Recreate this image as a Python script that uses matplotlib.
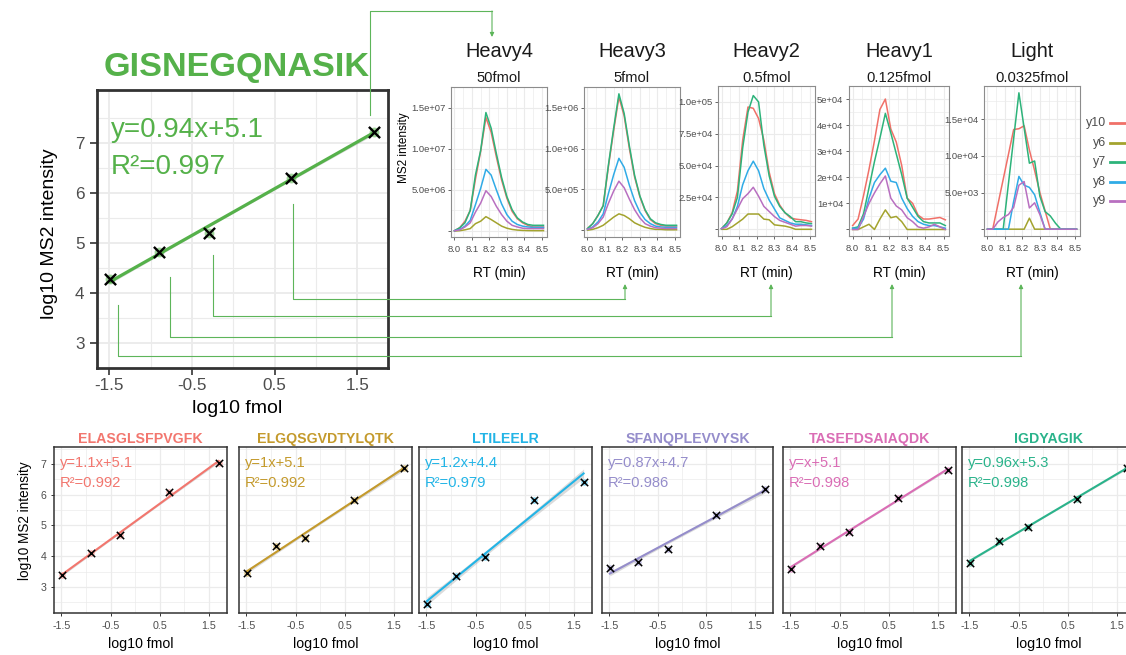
import matplotlib

matplotlib.use("Agg")

import matplotlib.pyplot as plt
import numpy as np
from matplotlib import font_manager

W, H = 1126, 655

# the reference uses a condensed sans; use a narrow face if there is one,
# otherwise plain Liberation Sans with smaller sizes so the widths still fit
installed = {f.name for f in font_manager.fontManager.ttflist}
if "Liberation Sans Narrow" in installed:
    FONT, FS = "Liberation Sans Narrow", 1.0
else:
    FONT, FS = "Liberation Sans", 0.85
plt.rcParams["font.family"] = [FONT, "DejaVu Sans"]
plt.rcParams["axes.unicode_minus"] = False


def fs(size):
    return size * FS


# ---- data -------------------------------------------------------------
fmol = [0.0325, 0.125, 0.5, 5, 50]
log_fmol = np.log10(fmol)

main_peptide = "GISNEGQNASIK"
main_color = "#55B14A"
main_intensity = [4.27, 4.81, 5.20, 6.30, 7.22]
main_eq = "y=0.94x+5.1"
main_r2 = "R\u00b2=0.997"

peptides = ["ELASGLSFPVGFK", "ELGQSGVDTYLQTK", "LTILEELR",
            "SFANQPLEVVYSK", "TASEFDSAIAQDK", "IGDYAGIK"]
peptide_colors = ["#F2766E", "#C49A2C", "#22B4E6", "#958DCB", "#DA6DB5", "#2AB38B"]
peptide_intensity = [
    [3.38, 4.11, 4.69, 6.08, 7.02],
    [3.44, 4.33, 4.58, 5.83, 6.87],
    [2.44, 3.34, 3.97, 5.83, 6.42],
    [3.63, 3.82, 4.24, 5.35, 6.19],
    [3.58, 4.34, 4.78, 5.88, 6.80],
    [3.79, 4.50, 4.96, 5.86, 6.88],
]
peptide_eq = ["y=1.1x+5.1", "y=1x+5.1", "y=1.2x+4.4", "y=0.87x+4.7", "y=x+5.1", "y=0.96x+5.3"]
peptide_r2 = ["R\u00b2=0.992", "R\u00b2=0.992", "R\u00b2=0.979", "R\u00b2=0.986", "R\u00b2=0.998", "R\u00b2=0.998"]

channels = ["Heavy4", "Heavy3", "Heavy2", "Heavy1", "Light"]
amounts = ["50fmol", "5fmol", "0.5fmol", "0.125fmol", "0.0325fmol"]
ions = ["y10", "y6", "y7", "y8", "y9"]
ion_colors = ["#F07068", "#A3A32E", "#2DB37A", "#30ABE6", "#B86FC0"]

rt = [8.00, 8.03, 8.06, 8.09, 8.12, 8.15, 8.18, 8.21, 8.24, 8.27,
      8.30, 8.33, 8.36, 8.39, 8.42, 8.45, 8.48, 8.51]

heavy4 = np.array([
    [0.05, 0.4, 1.2, 2.5, 6.3, 9.7, 13.8, 12.0, 9.0, 6.2, 4.0, 2.4, 1.5, 1.0, 0.7, 0.5, 0.5, 0.5],
    [0.0, 0.05, 0.15, 0.3, 0.9, 1.2, 1.75, 1.4, 1.0, 0.6, 0.35, 0.2, 0.12, 0.08, 0.06, 0.05, 0.05, 0.05],
    [0.05, 0.4, 1.0, 2.5, 6.8, 9.8, 14.4, 12.5, 9.4, 6.5, 4.2, 2.6, 1.6, 1.1, 0.8, 0.7, 0.7, 0.7],
    [0.05, 0.2, 0.6, 1.3, 3.2, 5.2, 7.5, 6.8, 5.0, 3.3, 2.0, 1.2, 0.8, 0.6, 0.5, 0.45, 0.45, 0.45],
    [0.03, 0.15, 0.5, 1.0, 2.3, 3.4, 4.9, 4.2, 3.0, 2.0, 1.2, 0.7, 0.5, 0.35, 0.3, 0.3, 0.3, 0.3],
]) * 1e6
heavy3 = np.array([
    [0.2, 0.8, 1.8, 3.0, 7.8, 12.2, 16.3, 14.0, 10.0, 6.5, 4.1, 2.4, 1.3, 0.8, 0.6, 0.5, 0.5, 0.5],
    [0.0, 0.1, 0.3, 0.6, 1.1, 1.6, 2.0, 1.8, 1.4, 0.9, 0.6, 0.35, 0.2, 0.1, 0.1, 0.05, 0.05, 0.05],
    [0.2, 0.8, 1.8, 3.0, 8.0, 12.5, 16.7, 14.3, 10.3, 6.7, 4.2, 2.5, 1.4, 0.9, 0.7, 0.6, 0.6, 0.6],
    [0.1, 0.4, 1.0, 2.0, 4.5, 6.8, 8.8, 7.7, 5.5, 3.6, 2.2, 1.3, 0.8, 0.5, 0.4, 0.35, 0.35, 0.35],
    [0.1, 0.3, 0.8, 1.6, 3.3, 4.8, 6.0, 5.2, 3.8, 2.5, 1.5, 0.8, 0.5, 0.3, 0.25, 0.2, 0.2, 0.2],
]) * 1e5
heavy2 = np.array([
    [0.05, 0.5, 1.3, 3.0, 7.0, 9.6, 9.5, 8.7, 7.0, 4.5, 2.8, 1.9, 1.3, 0.9, 0.8, 0.75, 0.7, 0.6],
    [0.0, 0.0, 0.2, 0.5, 0.8, 1.2, 1.2, 1.2, 0.8, 0.75, 0.35, 0.3, 0.25, 0.15, 0.0, 0.0, 0.0, 0.0],
    [0.05, 0.5, 1.2, 2.5, 6.4, 9.2, 10.5, 10.0, 6.6, 4.2, 2.6, 1.8, 1.3, 1.0, 0.6, 0.6, 0.5, 0.45],
    [0.05, 0.3, 0.8, 1.8, 3.5, 4.6, 5.35, 4.6, 3.2, 2.3, 1.6, 0.9, 0.7, 0.5, 0.4, 0.4, 0.35, 0.3],
    [0.05, 0.2, 0.8, 1.6, 2.4, 2.8, 3.3, 2.6, 1.8, 1.4, 1.0, 0.7, 0.55, 0.4, 0.25, 0.3, 0.3, 0.25],
]) * 1e4
heavy1 = np.array([
    [0.15, 0.4, 1.3, 2.3, 3.4, 4.6, 5.0, 3.85, 3.35, 2.45, 1.2, 1.0, 0.55, 0.4, 0.4, 0.43, 0.46, 0.37],
    [0.0, 0.0, 0.1, 0.2, 0.0, 0.4, 0.75, 0.45, 0.5, 0.3, 0.0, 0.0, 0.0, 0.0, 0.0, 0.0, 0.0, 0.0],
    [0.05, 0.1, 0.6, 1.6, 2.6, 3.5, 4.45, 3.7, 2.9, 2.1, 1.2, 0.85, 0.5, 0.3, 0.25, 0.25, 0.25, 0.15],
    [0.05, 0.05, 0.4, 1.2, 1.8, 2.1, 2.35, 1.85, 1.8, 1.2, 0.8, 0.5, 0.3, 0.2, 0.15, 0.15, 0.1, 0.05],
    [0.0, 0.0, 0.5, 1.0, 1.4, 1.75, 2.05, 1.2, 0.9, 0.75, 0.45, 0.3, 0.1, 0.05, 0.1, 0.2, 0.1, 0.0],
]) * 1e4
light = np.array([
    [0.0, 0.0, 3.4, 6.8, 10.2, 13.6, 13.7, 14.1, 10.8, 8.0, 5.0, 2.5, 0.0, 0.0, 0.0, 0.0, 0.0, 0.0],
    [0.0, 0.0, 0.0, 0.0, 0.0, 0.0, 0.0, 0.0, 1.5, 0.0, 0.0, 0.0, 0.0, 0.0, 0.0, 0.0, 0.0, 0.0],
    [0.0, 0.0, 0.0, 0.0, 6.2, 12.4, 18.6, 13.8, 9.0, 9.3, 4.5, 2.4, 1.8, 0.8, 0.0, 0.0, 0.0, 0.0],
    [0.0, 0.0, 0.0, 0.0, 0.0, 3.8, 7.2, 6.0, 5.7, 4.7, 2.3, 0.0, 0.0, 0.0, 0.0, 0.0, 0.0, 0.0],
    [0.0, 0.0, 1.0, 1.6, 2.0, 3.0, 6.0, 6.5, 2.9, 3.6, 2.0, 0.0, 0.0, 0.0, 0.0, 0.0, 0.0, 0.0],
]) * 1e3
chrom_data = [heavy4, heavy3, heavy2, heavy1, light]

chrom_yticks = [[5e6, 1e7, 1.5e7], [5e5, 1e6, 1.5e6], [2.5e4, 5e4, 7.5e4, 1e5],
                [1e4, 2e4, 3e4, 4e4, 5e4], [5e3, 1e4, 1.5e4]]
chrom_ylabels = [["5.0e+06", "1.0e+07", "1.5e+07"], ["5.0e+05", "1.0e+06", "1.5e+06"],
                 ["2.5e+04", "5.0e+04", "7.5e+04", "1.0e+05"],
                 ["1e+04", "2e+04", "3e+04", "4e+04", "5e+04"],
                 ["5.0e+03", "1.0e+04", "1.5e+04"]]
rt_ticks = [8.0, 8.1, 8.2, 8.3, 8.4, 8.5]

# ---- layout (pixels) --------------------------------------------------
MAIN_RECT = (97, 90, 388, 368)
CHROM_RECTS = [(451, 87, 547, 237), (584, 87, 680, 237), (718, 86, 815, 236),
               (849, 86, 949, 236), (984, 86, 1080, 236)]
BOTTOM_RECTS = [(54, 447, 227, 613), (239, 447, 412, 613), (419, 447, 592, 613),
                (602, 447, 773, 613), (783, 447, 956, 613), (962, 447, 1135, 613)]
CONNECTORS = [
    [(370, 115), (370, 11), (492, 11), (492, 37)],
    [(293, 204), (293, 299), (625, 299), (625, 284)],
    [(213, 255), (213, 316), (771, 316), (771, 284)],
    [(170, 277), (170, 337), (892, 337), (892, 284)],
    [(118, 305), (118, 356), (1021, 356), (1021, 284)],
]
GRID = "#EBEBEB"
TICK_GRAY = "#4D4D4D"

fig = plt.figure(figsize=(W / 100, H / 100), dpi=100)


def px_axes(rect):
    left, top, right, bottom = rect
    return fig.add_axes([left / W, 1 - bottom / H, (right - left) / W, (bottom - top) / H])


def px_text(x, y, s, **kw):
    return fig.text(x / W, 1 - y / H, s, **kw)


def gg_grid(ax, xmajor, xminor, ymajor, yminor, major_lw, minor_lw):
    ax.set_xticks(xmajor)
    ax.set_xticks(xminor, minor=True)
    ax.set_yticks(ymajor)
    ax.set_yticks(yminor, minor=True)
    ax.grid(True, which="major", color=GRID, lw=major_lw)
    ax.grid(True, which="minor", color=GRID, lw=minor_lw)
    ax.tick_params(which="minor", length=0)
    ax.set_axisbelow(True)


def fit_band(x, y, reps=3):
    x = np.asarray(x)
    y = np.asarray(y)
    slope, icpt = np.polyfit(x, y, 1)
    xs = np.linspace(x.min(), x.max(), 60)
    resid = y - (slope * x + icpt)
    n = len(x) * reps
    s = np.sqrt(np.sum(resid ** 2) * reps / (n - 2))
    sxx = reps * np.sum((x - x.mean()) ** 2)
    se = s * np.sqrt(1 / n + (xs - x.mean()) ** 2 / sxx)
    return xs, slope * xs + icpt, 1.2 * se


def calib_panel(ax, y, color, eq, r2, big):
    xs, yhat, half = fit_band(log_fmol, y)
    ax.fill_between(xs, yhat - half, yhat + half, color="#999999", alpha=0.35, lw=0, zorder=2)
    ax.plot(xs, yhat, color=color, lw=2.3 if big else 1.5, zorder=3)
    ax.scatter(log_fmol, y, s=50 if big else 22, color=color, alpha=0.55, lw=0, zorder=4)
    ax.scatter(log_fmol, y, s=65 if big else 28, marker="x", color="black",
               lw=1.7 if big else 1.1, zorder=5)
    ax.set_xlim(-1.65, 1.87)
    if big:
        ax.set_ylim(2.6, 8.05)
        ax.text(-1.48, 7.12, eq, color=color, fontsize=fs(23.5), va="baseline")
        ax.text(-1.48, 6.38, r2, color=color, fontsize=fs(23.5), va="baseline")
    else:
        ax.set_ylim(2.15, 7.55)
        ax.text(-1.53, 6.9, eq, color=color, fontsize=fs(12.5), va="baseline")
        ax.text(-1.53, 6.25, r2, color=color, fontsize=fs(12.5), va="baseline")
    gg_grid(ax, [-1.5, -0.5, 0.5, 1.5], [-1, 0, 1], [3, 4, 5, 6, 7],
            [2.5, 3.5, 4.5, 5.5, 6.5, 7.5], 1.3 if big else 0.9, 0.8 if big else 0.5)
    for sp in ax.spines.values():
        sp.set_color("#333333")
        sp.set_linewidth(2.0 if big else 1.1)


# ---- main calibration panel --------------------------------------------
ax = px_axes(MAIN_RECT)
calib_panel(ax, main_intensity, main_color, main_eq, main_r2, big=True)
ax.tick_params(which="major", length=5, width=1.2, color="#333333",
               labelsize=fs(14.5), labelcolor=TICK_GRAY, pad=2)
ax.tick_params(axis="y", pad=4)
px_text(237, 76, main_peptide, fontsize=fs(29), fontweight="bold", color=main_color,
        ha="center", va="baseline")
px_text(237, 413, "log10 fmol", fontsize=fs(16.5), ha="center", va="baseline")
px_text(50, 234, "log10 MS2 intensity", fontsize=fs(16.5), ha="center", va="center",
        rotation=90)

# ---- chromatograms ----------------------------------------------------
for k, rect in enumerate(CHROM_RECTS):
    ax = px_axes(rect)
    data = chrom_data[k]
    for ion_vals, color in zip(data, ion_colors):
        ax.plot(rt, ion_vals, color=color, lw=1.1)
    top = data.max()
    ax.set_xlim(7.98, 8.53)
    ax.set_ylim(-0.05 * top, 1.05 * top)
    yt = [0.0] + chrom_yticks[k]
    ymin = list((np.array(yt[:-1]) + np.array(yt[1:])) / 2)
    ymin.append(yt[-1] + (yt[1] - yt[0]) / 2)
    gg_grid(ax, rt_ticks, [8.05, 8.15, 8.25, 8.35, 8.45], yt, ymin, 0.8, 0.5)
    ax.set_xticklabels(["8.0", "8.1", "8.2", "8.3", "8.4", "8.5"])
    ax.set_yticklabels([""] + chrom_ylabels[k])
    ax.tick_params(which="major", length=2.5, width=0.6, color=TICK_GRAY,
                   labelsize=fs(8), labelcolor=TICK_GRAY, pad=1.5)
    ax.tick_params(axis="x", pad=3)
    for sp in ax.spines.values():
        sp.set_color("#8C8C8C")
        sp.set_linewidth(0.8)
    cx = (rect[0] + rect[2]) / 2
    px_text(cx, 57, channels[k], fontsize=fs(17), color="#1A1A1A", ha="center", va="baseline")
    px_text(cx, 82, amounts[k], fontsize=fs(12.5), color="#1A1A1A", ha="center", va="baseline")
    px_text(cx, 277, "RT (min)", fontsize=fs(11.5), ha="center", va="baseline")

px_text(404, 148, "MS2 intensity", fontsize=fs(10), ha="center", va="center", rotation=90)

# ---- bottom calibration panels ----------------------------------------
for k, rect in enumerate(BOTTOM_RECTS):
    ax = px_axes(rect)
    calib_panel(ax, peptide_intensity[k], peptide_colors[k], peptide_eq[k],
                peptide_r2[k], big=False)
    ax.tick_params(which="major", length=2.5, width=0.7, color="#333333",
                   labelsize=fs(9), labelcolor=TICK_GRAY, pad=3)
    if k > 0:
        ax.tick_params(axis="y", which="both", length=0, labelleft=False)
    cx = (rect[0] + rect[2]) / 2
    px_text(cx, 443, peptides[k], fontsize=fs(12), fontweight="bold",
            color=peptide_colors[k], ha="center", va="baseline")
    px_text(cx, 648, "log10 fmol", fontsize=fs(12), ha="center", va="baseline")

px_text(25, 521, "log10 MS2 intensity", fontsize=fs(11.5), ha="center", va="center", rotation=90)

# ---- overlay: connectors and legend -----------------------------------
ov = fig.add_axes([0, 0, 1, 1])
ov.set_xlim(0, W)
ov.set_ylim(H, 0)
ov.axis("off")
ov.patch.set_alpha(0)
for path in CONNECTORS:
    xs = [p[0] for p in path]
    ys = [p[1] for p in path]
    ov.plot(xs[:-1], ys[:-1], color="#5DB55A", lw=0.8)
    ov.annotate("", xy=path[-1], xytext=path[-2],
                arrowprops=dict(arrowstyle="-|>", color="#5DB55A", lw=0.8,
                                mutation_scale=6, shrinkA=0, shrinkB=0))

for i, (ion, color) in enumerate(zip(ions, ion_colors)):
    y = 123 + 19.6 * i
    ov.plot([1110, 1140], [y, y], color=color, lw=2.0)
    px_text(1106, y, ion, fontsize=fs(10.5), color=TICK_GRAY, ha="right", va="center")

fig.savefig("out.png", dpi=100)
